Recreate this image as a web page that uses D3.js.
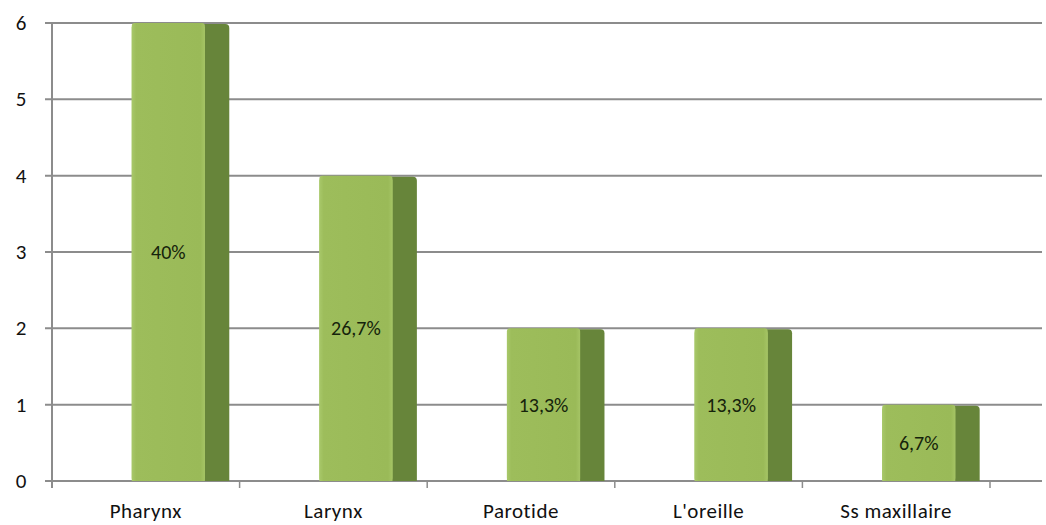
<!DOCTYPE html>
<html>
<head>
<meta charset="utf-8">
<script src="https://cdn.jsdelivr.net/npm/d3@7"></script>
<style>
  body { margin: 0; background: #fff; }
  svg { display: block; font-family: Carlito, "Open Sans", "Liberation Sans", sans-serif; }
</style>
</head>
<body>
<div class="chart"></div>
<script>
var categories = ['Pharynx', 'Larynx', 'Parotide', "L'oreille", 'Ss maxillaire'];
var values = [6, 4, 2, 2, 1];
var percents = ['40%', '26,7%', '13,3%', '13,3%', '6,7%'];
var yTicks = [0, 1, 2, 3, 4, 5, 6];

var W = 1046, H = 525;
var plotLeft = 52, plotRight = 990, gridEnd = 1042;
var plotTop = 23, plotBottom = 481;

var svg = d3.select('.chart')
    .append('svg')
    .attr('width', W)
    .attr('height', H);

var defs = svg.append('defs');
var grad = defs.append('linearGradient').attr('id', 'front')
    .attr('x1', 0).attr('x2', 1).attr('y1', 0).attr('y2', 0);
grad.append('stop').attr('offset', '0%').attr('stop-color', '#a8c86a');
grad.append('stop').attr('offset', '6%').attr('stop-color', '#9dbd5b');
grad.append('stop').attr('offset', '94%').attr('stop-color', '#9aba58');
grad.append('stop').attr('offset', '100%').attr('stop-color', '#a5c465');

var yScale = d3.scaleLinear().domain([0, 6]).range([plotBottom, plotTop]);
var xScale = d3.scaleBand().domain(categories).range([plotLeft, plotRight]).padding(0);

// gridlines
svg.selectAll('line.grid')
    .data(yTicks)
    .enter()
    .append('line')
    .attr('class', 'grid')
    .attr('x1', plotLeft - 7)
    .attr('x2', gridEnd)
    .attr('y1', d => yScale(d))
    .attr('y2', d => yScale(d))
    .style('stroke', '#8c8c8c')
    .style('stroke-width', 2);

// y axis line
svg.append('line')
    .attr('x1', plotLeft).attr('x2', plotLeft)
    .attr('y1', plotTop).attr('y2', plotBottom + 7)
    .style('stroke', '#8c8c8c')
    .style('stroke-width', 2);

// bottom ticks between categories
svg.selectAll('line.xtick')
    .data(categories)
    .enter()
    .append('line')
    .attr('class', 'xtick')
    .attr('x1', d => xScale(d) + xScale.step())
    .attr('x2', d => xScale(d) + xScale.step())
    .attr('y1', plotBottom)
    .attr('y2', plotBottom + 7)
    .style('stroke', '#8c8c8c')
    .style('stroke-width', 1.5);

// y tick labels
svg.selectAll('text.ytick')
    .data(yTicks)
    .enter()
    .append('text')
    .attr('class', 'ytick')
    .attr('x', 21)
    .attr('y', d => yScale(d) + 7)
    .attr('text-anchor', 'middle')
    .style('font-size', '21px')
    .style('fill', '#111')
    .text(d => d);

var bw = xScale.bandwidth();
var frontX = d => xScale(d) + bw * 0.425;
var frontW = bw * 0.39;
var sideW = bw * 0.13;

var bars = svg.selectAll('g.bar')
    .data(categories.map((c, i) => ({ cat: c, val: values[i], pct: percents[i] })))
    .enter()
    .append('g')
    .attr('class', 'bar');

// side face
bars.append('path')
    .attr('d', d => {
        var x0 = frontX(d.cat) + frontW, y0 = yScale(d.val);
        return 'M' + (x0 - 2) + ',' + (y0 + 1) +
            ' L' + (x0 + sideW - 4) + ',' + (y0 + 1) +
            ' Q' + (x0 + sideW) + ',' + (y0 + 1) + ' ' + (x0 + sideW) + ',' + (y0 + 5) +
            ' L' + (x0 + sideW) + ',' + plotBottom +
            ' L' + (x0 - 2) + ',' + plotBottom + ' Z';
    })
    .style('fill', '#67853a');

// front face
bars.append('rect')
    .attr('x', d => frontX(d.cat))
    .attr('y', d => yScale(d.val))
    .attr('width', frontW)
    .attr('height', d => plotBottom - yScale(d.val))
    .attr('rx', 3)
    .style('fill', 'url(#front)');
bars.append('rect')
    .attr('x', d => frontX(d.cat))
    .attr('y', d => yScale(d.val) + 4)
    .attr('width', frontW)
    .attr('height', d => plotBottom - yScale(d.val) - 4)
    .style('fill', 'url(#front)');

// percent labels
bars.append('text')
    .attr('x', d => frontX(d.cat) + frontW / 2)
    .attr('y', d => yScale(d.val / 2) + 7)
    .attr('text-anchor', 'middle')
    .style('font-size', '20px')
    .style('fill', '#15230b')
    .text(d => d.pct);

// category labels
svg.selectAll('text.cat')
    .data(categories)
    .enter()
    .append('text')
    .attr('class', 'cat')
    .attr('x', d => xScale(d) + bw / 2)
    .attr('y', 518)
    .attr('text-anchor', 'middle')
    .style('font-size', '21px')
    .style('letter-spacing', '0.5px')
    .style('fill', '#111')
    .text(d => d);
</script>
</body>
</html>
